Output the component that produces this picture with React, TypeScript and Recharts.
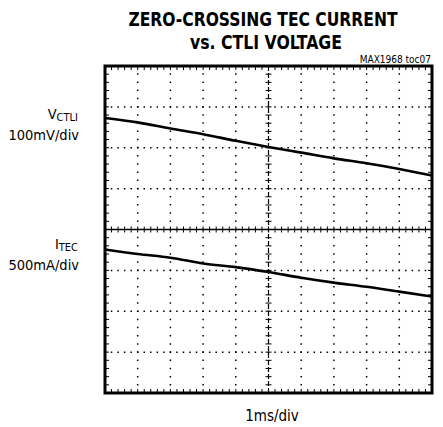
import React from 'react';
import { LineChart, Line, XAxis, YAxis, ReferenceLine, ReferenceArea } from 'recharts';

// scope screen, values in divisions (x: 0..10 div, y: -4..4 div)
const TIME_DIV = [0, 1, 2, 3, 4, 5, 6, 7, 8, 9, 10];
const VCTLI_DIV = [2.73, 2.62, 2.47, 2.33, 2.17, 2.02, 1.88, 1.74, 1.62, 1.48, 1.32];
const ITEC_DIV = [-0.49, -0.6, -0.69, -0.83, -0.92, -1.04, -1.18, -1.3, -1.4, -1.52, -1.64];

const X_GRID = [1, 2, 3, 4, 6, 7, 8, 9];
const Y_GRID = [-3, -2, -1, 1, 2, 3];

const W = 443;
const H = 427;
const MARGIN = { top: 66, right: 11, bottom: 34, left: 105 };
const PLOT_W = W - MARGIN.left - MARGIN.right;
const PLOT_H = H - MARGIN.top - MARGIN.bottom;
const X_PER_PX = 10 / PLOT_W;
const Y_PER_PX = 8 / PLOT_H;

// minor ticks every 0.2 div
const X_MINOR = Array.from({ length: 51 }, (_, i) => +(i * 0.2).toFixed(2));
const Y_MINOR = Array.from({ length: 41 }, (_, i) => +(-4 + i * 0.2).toFixed(2));

const chartData = TIME_DIV.map((t, i) => ({ t, vctli: VCTLI_DIV[i], itec: ITEC_DIV[i] }));

const FONT = "'Liberation Sans Narrow', 'DejaVu Sans Condensed', Arial, sans-serif";

export default function App() {
  const tickX = 3 * X_PER_PX;
  const tickY = 3 * Y_PER_PX;
  const edgeX = 4 * X_PER_PX;
  const edgeY = 4 * Y_PER_PX;

  return (
    <div style={{ position: 'absolute', left: 0, top: 0, width: W, height: H, background: '#fff' }}>
      <LineChart width={W} height={H} data={chartData} margin={MARGIN}>
        <XAxis dataKey="t" type="number" domain={[0, 10]} hide />
        <YAxis type="number" domain={[-4, 4]} hide />

        {X_GRID.map((x) => (
          <ReferenceLine key={'vx' + x} x={x} stroke="#000" strokeWidth={1.5}
            strokeDasharray="1.5 6.68" strokeDashoffset={0.75} />
        ))}
        {Y_GRID.map((y) => (
          <ReferenceLine key={'hy' + y} y={y} stroke="#000" strokeWidth={1.5}
            strokeDasharray="1.5 5.04" strokeDashoffset={0.75} />
        ))}

        {/* center axes with crosshair ticks */}
        <ReferenceLine x={5} stroke="#000" strokeWidth={1.2} strokeDasharray="5 2" />
        <ReferenceLine y={0} stroke="#000" strokeWidth={1.6} />
        {Y_MINOR.map((y) => (
          <ReferenceLine key={'cy' + y} segment={[{ x: 5 - tickX, y }, { x: 5 + tickX, y }]}
            stroke="#000" strokeWidth={1} />
        ))}
        {X_MINOR.map((x) => (
          <ReferenceLine key={'cx' + x} segment={[{ x, y: -tickY }, { x, y: tickY }]}
            stroke="#000" strokeWidth={1} />
        ))}

        {/* small inward ticks along the frame */}
        {X_MINOR.map((x) => (
          <ReferenceLine key={'tt' + x} segment={[{ x, y: 4 }, { x, y: 4 - edgeY }]} stroke="#000" strokeWidth={1} />
        ))}
        {X_MINOR.map((x) => (
          <ReferenceLine key={'tb' + x} segment={[{ x, y: -4 }, { x, y: -4 + edgeY }]} stroke="#000" strokeWidth={1} />
        ))}
        {Y_MINOR.map((y) => (
          <ReferenceLine key={'tl' + y} segment={[{ x: 0, y }, { x: edgeX, y }]} stroke="#000" strokeWidth={1} />
        ))}
        {Y_MINOR.map((y) => (
          <ReferenceLine key={'tr' + y} segment={[{ x: 10, y }, { x: 10 - edgeX, y }]} stroke="#000" strokeWidth={1} />
        ))}

        <Line type="monotone" dataKey="vctli" stroke="#000" strokeWidth={2.6} dot={false} isAnimationActive={false} />
        <Line type="monotone" dataKey="itec" stroke="#000" strokeWidth={2.6} dot={false} isAnimationActive={false} />

        <ReferenceArea x1={0} x2={10} y1={-4} y2={4} fill="none" fillOpacity={0} stroke="#000" strokeWidth={3} />
      </LineChart>

      <svg width={W} height={H} style={{ position: 'absolute', left: 0, top: 0, pointerEvents: 'none' }}>
        <g fontFamily={FONT} fill="#000">
          <text x={263} y={26} textAnchor="middle" fontSize={20} fontWeight="bold"
            textLength={269} lengthAdjust="spacingAndGlyphs">ZERO-CROSSING TEC CURRENT</text>
          <text x={266} y={49} textAnchor="middle" fontSize={20} fontWeight="bold"
            textLength={152} lengthAdjust="spacingAndGlyphs">vs. CTLI VOLTAGE</text>
          <text x={431} y={63} textAnchor="end" fontSize={10}>MAX1968 toc07</text>

          <text x={78} y={119} textAnchor="end" fontSize={14.5}>
            V<tspan fontSize={11} dy={2}>CTLI</tspan>
          </text>
          <text x={79} y={140} textAnchor="end" fontSize={14.5}>100mV/div</text>

          <text x={78} y={249} textAnchor="end" fontSize={14.5}>
            I<tspan fontSize={11} dy={2}>TEC</tspan>
          </text>
          <text x={79} y={270} textAnchor="end" fontSize={14.5}>500mA/div</text>

          <text x={272} y={421} textAnchor="middle" fontSize={15}>1ms/div</text>
        </g>
      </svg>
    </div>
  );
}
